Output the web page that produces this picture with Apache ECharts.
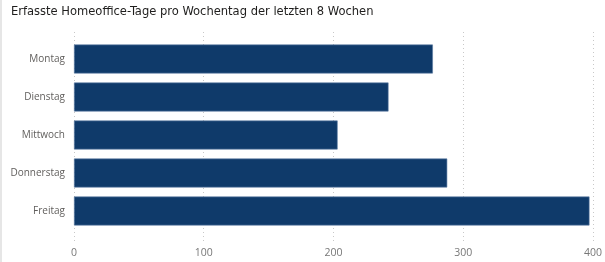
<!DOCTYPE html>
<html>
<head>
<meta charset="utf-8">
<script src="https://cdn.jsdelivr.net/npm/echarts@6/dist/echarts.min.js"></script>
<style>
  html, body { margin: 0; padding: 0; background: #fff; }
  #chart { width: 605px; height: 262px; }
  #edge { position: absolute; left: 0; top: 0; width: 2px; height: 262px; background: #e6e6e6; }
</style>
</head>
<body>
<div id="chart"></div>
<div id="edge"></div>
<script>
// Werte
const tage = ['Montag', 'Dienstag', 'Mittwoch', 'Donnerstag', 'Freitag'];
const homeofficeTage = [275, 241, 202, 286, 395];
const achseMin = 0;
const achseMax = 400;
const achseSchritt = 100;

const chart = echarts.init(document.getElementById('chart'));

const option = {
  backgroundColor: '#ffffff',
  animation: false,
  title: {
    text: 'Erfasste Homeoffice-Tage pro Wochentag der letzten 8 Wochen',
    left: 6,
    top: 0,
    textStyle: {
      fontFamily: 'DejaVu Sans Condensed, DejaVu Sans',
      fontSize: 12.8,
      fontWeight: 'normal',
      color: '#1f1e1d'
    }
  },
  grid: [
    // nur fuer die Gitterlinien und die Zahlen unten
    { left: 74, right: 9, top: 32, bottom: 21 },
    // fuer die Balken
    { left: 74, right: 9, top: 40, bottom: 32 }
  ],
  xAxis: [
    {
      gridIndex: 0,
      type: 'value',
      min: achseMin,
      max: achseMax,
      interval: achseSchritt,
      axisLine: { show: false },
      axisTick: { show: false },
      splitLine: { lineStyle: { type: [1, 3], color: '#c8c8c8', width: 1 } },
      axisLabel: {
        margin: 7,
        fontFamily: 'Open Sans',
        fontSize: 10.5,
        color: '#777777'
      }
    },
    {
      gridIndex: 1,
      type: 'value',
      min: achseMin,
      max: achseMax,
      show: false
    }
  ],
  yAxis: [
    { gridIndex: 0, type: 'value', show: false },
    {
      gridIndex: 1,
      type: 'category',
      data: tage,
      inverse: true,
      axisLine: { show: false },
      axisTick: { show: false },
      axisLabel: {
        margin: 9,
        fontFamily: 'Open Sans',
        fontSize: 10,
        color: '#605e5c'
      }
    }
  ],
  series: [
    {
      type: 'bar',
      xAxisIndex: 1,
      yAxisIndex: 1,
      data: homeofficeTage,
      barCategoryGap: '24%',
      itemStyle: {
        color: '#0f3a6a',
        borderColor: '#5a7ba3',
        borderWidth: 0.6
      }
    }
  ]
};

chart.setOption(option);
</script>
</body>
</html>
